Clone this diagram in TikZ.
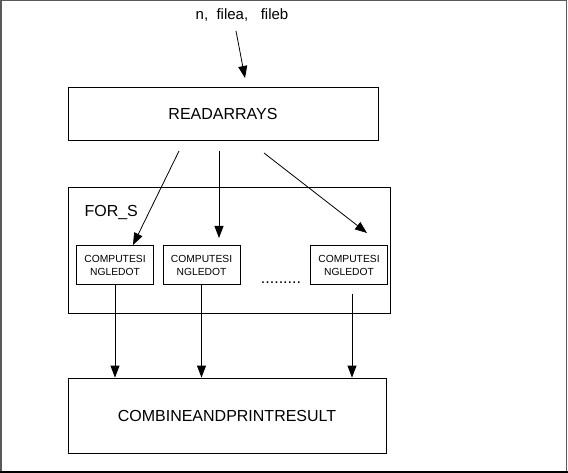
\documentclass[tikz,border=0pt]{standalone}
\usepackage{fontspec}
\setmainfont{Liberation Sans}
\usetikzlibrary{arrows.meta}
\begin{document}
\begin{tikzpicture}[x=1pt,y=-1pt,
  box/.style={draw=black,line width=0.8pt,inner sep=0pt},
  arr/.style={-{Triangle[length=12pt,width=9pt]},line width=0.8pt},
  big/.style={font=\fontsize{16}{18}\selectfont},
  small/.style={font=\fontsize{10.3}{13}\selectfont,align=center}]
\useasboundingbox (0,0) rectangle (568,473);
\draw[gray!70!black,line width=1.5pt] (0.75,472) -- (0.75,0.75) -- (566.5,0.75) -- (566.5,472);
\draw[black,line width=2pt] (0,472) -- (568,472);
% nodes
\node[box,minimum width=310pt,minimum height=53pt,big] (read) at (223,113.5) {READARRAYS};
\node[box,minimum width=322pt,minimum height=126pt] (fors) at (229,250) {};
\node[big,anchor=west] (forlabel) at (81,213) {FOR\_S};
\node[box,minimum width=77pt,minimum height=39pt,small] (c1) at (115,265) {COMPUTESI\\NGLEDOT};
\node[box,minimum width=77pt,minimum height=39pt,small] (c2) at (201.5,265) {COMPUTESI\\NGLEDOT};
\node[box,minimum width=77pt,minimum height=39pt,small] (c3) at (349,265) {COMPUTESI\\NGLEDOT};
\node[big] (dots) at (281,283) {.........};
\node[box,minimum width=318pt,minimum height=75pt,big] (comb) at (227,415.5) {COMBINEANDPRINTRESULT};
\node[font=\fontsize{15}{17}\selectfont] (inp) at (242,15) {n,\ \ filea,\ \ \ fileb};
% connectors
\coordinate (a0) at (236,31);
\coordinate (a1) at (245,78);
\coordinate (r1) at (179,151);
\coordinate (e1) at (133,245);
\coordinate (r2) at (219,151);
\coordinate (e2) at (219,238);
\coordinate (r3) at (264,153);
\coordinate (e3) at (367,233);
\coordinate (c3b) at (352,294);
\draw[arr] (a0) -- (a1);
\draw[arr] (r1) -- (e1);
\draw[arr] (r2) -- (e2);
\draw[arr] (r3) -- (e3);
\draw[arr] (c1.south) -- (c1.south |- comb.north);
\draw[arr] (c2.south) -- (c2.south |- comb.north);
\draw[arr] (c3b) -- (c3b |- comb.north);
\end{tikzpicture}
\end{document}
